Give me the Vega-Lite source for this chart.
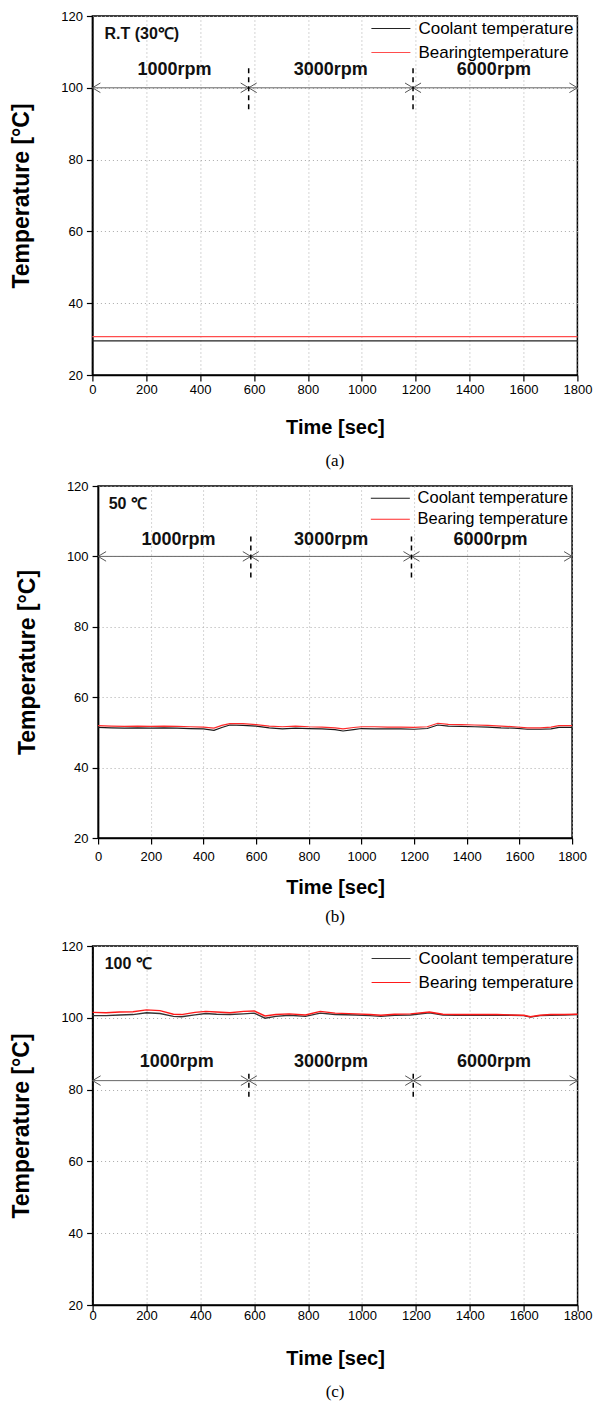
{
  "$schema": "https://vega.github.io/schema/vega-lite/v6.json",
  "background": "white",
  "padding": {"left": 9, "top": 9, "right": 0, "bottom": 0},
  "spacing": 9,
  "center": true,
  "config": {
    "view": {"stroke": "black", "strokeWidth": 1.5},
    "axis": {
      "grid": true, "gridDash": [1, 3], "gridColor": "#aaaaaa", "gridWidth": 1,
      "domainColor": "black", "domainWidth": 1.5,
      "tickColor": "black", "tickWidth": 1.2, "tickSize": 6,
      "labelFont": "Liberation Sans", "labelFontSize": 13, "labelColor": "black", "labelFlush": false,
      "titleFont": "Liberation Sans", "titleFontWeight": "bold", "titleColor": "black"
    },
    "legend": {
      "orient": "top-right", "offset": 4, "padding": 0,
      "symbolType": "M-3.9,0L3.9,0", "symbolSize": 100, "symbolStrokeWidth": 1.2,
      "labelOffset": 19, "labelFont": "Liberation Sans", "labelFontSize": 17, "labelColor": "black",
      "rowPadding": 6
    },
    "title": {"font": "Liberation Serif", "fontSize": 17, "fontWeight": "normal", "color": "black"}
  },
  "resolve": {"scale": {"color": "independent", "x": "independent", "y": "independent"}, "legend": {"color": "independent"}},
  "datasets": {
    "linesA": [
      {"time": 0, "temp": 29.5, "series": "Coolant temperature"},
      {"time": 900, "temp": 29.5, "series": "Coolant temperature"},
      {"time": 1800, "temp": 29.5, "series": "Coolant temperature"},
      {"time": 0, "temp": 30.7, "series": "Bearingtemperature"},
      {"time": 900, "temp": 30.7, "series": "Bearingtemperature"},
      {"time": 1800, "temp": 30.7, "series": "Bearingtemperature"}
    ],
    "linesB": [
      {"time": 0, "c": 51.4, "b": 51.9}, {"time": 50, "c": 51.3, "b": 51.8}, {"time": 100, "c": 51.2, "b": 51.7},
      {"time": 150, "c": 51.3, "b": 51.8}, {"time": 200, "c": 51.2, "b": 51.7}, {"time": 250, "c": 51.3, "b": 51.8},
      {"time": 300, "c": 51.2, "b": 51.7}, {"time": 350, "c": 51.1, "b": 51.6}, {"time": 400, "c": 51.0, "b": 51.5},
      {"time": 440, "c": 50.6, "b": 51.2}, {"time": 470, "c": 51.4, "b": 52.0}, {"time": 500, "c": 52.1, "b": 52.5},
      {"time": 550, "c": 52.0, "b": 52.5}, {"time": 600, "c": 51.8, "b": 52.2}, {"time": 650, "c": 51.3, "b": 51.8},
      {"time": 700, "c": 51.0, "b": 51.6}, {"time": 750, "c": 51.2, "b": 51.8}, {"time": 800, "c": 51.1, "b": 51.6},
      {"time": 850, "c": 51.0, "b": 51.5}, {"time": 900, "c": 50.8, "b": 51.3}, {"time": 930, "c": 50.4, "b": 51.0},
      {"time": 970, "c": 50.8, "b": 51.4}, {"time": 1000, "c": 51.1, "b": 51.6}, {"time": 1050, "c": 51.0, "b": 51.6},
      {"time": 1100, "c": 51.0, "b": 51.5}, {"time": 1150, "c": 51.0, "b": 51.5}, {"time": 1200, "c": 50.9, "b": 51.4},
      {"time": 1250, "c": 51.1, "b": 51.6}, {"time": 1290, "c": 52.1, "b": 52.6}, {"time": 1330, "c": 51.8, "b": 52.3},
      {"time": 1380, "c": 51.7, "b": 52.2}, {"time": 1430, "c": 51.6, "b": 52.1}, {"time": 1480, "c": 51.5, "b": 52.0},
      {"time": 1530, "c": 51.3, "b": 51.8}, {"time": 1580, "c": 51.2, "b": 51.6}, {"time": 1630, "c": 50.9, "b": 51.3},
      {"time": 1680, "c": 50.9, "b": 51.3}, {"time": 1720, "c": 51.0, "b": 51.5}, {"time": 1750, "c": 51.4, "b": 51.9},
      {"time": 1800, "c": 51.4, "b": 51.9}
    ],
    "linesC": [
      {"time": 0, "c": 100.6, "b": 101.5}, {"time": 50, "c": 100.6, "b": 101.4}, {"time": 100, "c": 100.8, "b": 101.6},
      {"time": 150, "c": 100.9, "b": 101.7}, {"time": 200, "c": 101.4, "b": 102.2}, {"time": 250, "c": 101.2, "b": 102.0},
      {"time": 300, "c": 100.4, "b": 101.0}, {"time": 330, "c": 100.3, "b": 100.9}, {"time": 380, "c": 100.8, "b": 101.5},
      {"time": 420, "c": 101.2, "b": 101.8}, {"time": 460, "c": 101.0, "b": 101.6}, {"time": 510, "c": 100.9, "b": 101.4},
      {"time": 560, "c": 101.1, "b": 101.8}, {"time": 600, "c": 101.3, "b": 101.9}, {"time": 640, "c": 99.9, "b": 100.5},
      {"time": 680, "c": 100.4, "b": 100.9}, {"time": 730, "c": 100.7, "b": 101.1}, {"time": 790, "c": 100.4, "b": 100.8},
      {"time": 845, "c": 101.3, "b": 101.8}, {"time": 900, "c": 100.9, "b": 101.3}, {"time": 975, "c": 100.8, "b": 101.1},
      {"time": 1030, "c": 100.6, "b": 100.9}, {"time": 1070, "c": 100.4, "b": 100.7}, {"time": 1120, "c": 100.7, "b": 101.0},
      {"time": 1180, "c": 100.8, "b": 101.1}, {"time": 1250, "c": 101.4, "b": 101.6}, {"time": 1300, "c": 100.8, "b": 101.0},
      {"time": 1350, "c": 100.7, "b": 100.9}, {"time": 1400, "c": 100.8, "b": 100.9}, {"time": 1450, "c": 100.7, "b": 100.9},
      {"time": 1500, "c": 100.8, "b": 100.9}, {"time": 1550, "c": 100.7, "b": 100.8}, {"time": 1600, "c": 100.6, "b": 100.7},
      {"time": 1625, "c": 100.2, "b": 100.3}, {"time": 1660, "c": 100.6, "b": 100.7}, {"time": 1700, "c": 100.7, "b": 100.9},
      {"time": 1750, "c": 100.8, "b": 100.9}, {"time": 1800, "c": 100.9, "b": 101.0}
    ],
    "arrowsAB": [
      {"time": 0, "time2": 580, "temp": 100, "mid": 305, "label": "1000rpm"},
      {"time": 580, "time2": 1190, "temp": 100, "mid": 885, "label": "3000rpm"},
      {"time": 1190, "time2": 1800, "temp": 100, "mid": 1490, "label": "6000rpm"}
    ],
    "arrowsC": [
      {"time": 0, "time2": 580, "temp": 82.5, "mid": 312, "label": "1000rpm"},
      {"time": 580, "time2": 1190, "temp": 82.5, "mid": 885, "label": "3000rpm"},
      {"time": 1190, "time2": 1800, "temp": 82.5, "mid": 1490, "label": "6000rpm"}
    ],
    "dashAB": [
      {"time": 580, "temp": 94, "temp2": 106.5},
      {"time": 1190, "temp": 94, "temp2": 106.5}
    ],
    "dashC": [
      {"time": 580, "temp": 78, "temp2": 85.5},
      {"time": 1190, "temp": 78, "temp2": 85.5}
    ],
    "tagA": [{"time": 45, "temp": 115, "label": "R.T (30℃)"}],
    "tagB": [{"time": 40, "temp": 115, "label": "50 ℃"}],
    "tagC": [{"time": 45, "temp": 115, "label": "100 ℃"}]
  },
  "vconcat": [
    {
      "width": 485, "height": 359,
      "title": {"text": "(a)", "orient": "bottom", "offset": 16},
      "layer": [
        {
          "data": {"name": "linesA"},
          "mark": {"type": "line", "strokeWidth": 1.3},
          "encoding": {
            "x": {"field": "time", "type": "quantitative", "scale": {"domain": [0, 1800], "nice": false},
              "axis": {"title": "Time [sec]", "titleFontSize": 20, "titlePadding": 21, "labelPadding": 2, "format": "d",
                "values": [0,100,200,300,400,500,600,700,800,900,1000,1100,1200,1300,1400,1500,1600,1700,1800],
                "labelExpr": "datum.value % 200 == 0 ? datum.label : ''"}},
            "y": {"field": "temp", "type": "quantitative", "scale": {"domain": [20, 120], "nice": false},
              "axis": {"title": "Temperature [°C]", "titleFontSize": 23, "titlePadding": 27, "labelPadding": 4, "format": "d",
                "values": [20,30,40,50,60,70,80,90,100,110,120],
                "labelExpr": "datum.value % 20 == 0 ? datum.label : ''"}},
            "color": {"field": "series", "type": "nominal",
              "scale": {"domain": ["Coolant temperature", "Bearingtemperature"], "range": ["#222222", "#ff4d4d"]},
              "legend": {"title": null}}
          }
        },
        {
          "data": {"name": "arrowsAB"},
          "mark": {"type": "rule", "color": "#666666", "strokeWidth": 1},
          "encoding": {
            "x": {"field": "time", "type": "quantitative"},
            "x2": {"field": "time2"},
            "y": {"field": "temp", "type": "quantitative"}
          }
        },
        {
          "data": {"name": "arrowsAB"},
          "mark": {"type": "point", "shape": "M1,-0.6L0,0L1,0.6", "size": 256, "filled": false, "color": "#555555", "strokeWidth": 1, "opacity": 1},
          "encoding": {
            "x": {"field": "time", "type": "quantitative"},
            "y": {"field": "temp", "type": "quantitative"}
          }
        },
        {
          "data": {"name": "arrowsAB"},
          "mark": {"type": "point", "shape": "M-1,-0.6L0,0L-1,0.6", "size": 256, "filled": false, "color": "#555555", "strokeWidth": 1, "opacity": 1},
          "encoding": {
            "x": {"field": "time2", "type": "quantitative"},
            "y": {"field": "temp", "type": "quantitative"}
          }
        },
        {
          "data": {"name": "arrowsAB"},
          "mark": {"type": "text", "font": "Liberation Sans", "fontSize": 18, "fontWeight": "bold", "color": "#111111", "baseline": "middle", "dy": -18},
          "encoding": {
            "x": {"field": "mid", "type": "quantitative"},
            "y": {"field": "temp", "type": "quantitative"},
            "text": {"field": "label"}
          }
        },
        {
          "data": {"name": "dashAB"},
          "mark": {"type": "rule", "color": "black", "strokeWidth": 1.5, "strokeDash": [5, 4]},
          "encoding": {
            "x": {"field": "time", "type": "quantitative"},
            "y": {"field": "temp", "type": "quantitative"},
            "y2": {"field": "temp2"}
          }
        },
        {
          "data": {"name": "tagA"},
          "mark": {"type": "text", "font": "Liberation Sans", "fontSize": 16, "fontWeight": "bold", "color": "#111111", "align": "left", "baseline": "middle"},
          "encoding": {
            "x": {"field": "time", "type": "quantitative"},
            "y": {"field": "temp", "type": "quantitative"},
            "text": {"field": "label"}
          }
        }
      ]
    },
    {
      "spacing": 13,
      "center": true,
      "resolve": {"scale": {"color": "independent", "x": "independent", "y": "independent"}, "legend": {"color": "independent"}},
      "vconcat": [
        {
          "width": 474, "height": 352,
          "title": {"text": "(b)", "orient": "bottom", "offset": 12},
          "layer": [
            {
              "data": {"name": "linesB"},
              "transform": [{"fold": ["c", "b"], "as": ["key", "temp"]},
                {"lookup": "key", "from": {"data": {"values": [{"key": "c", "series": "Coolant temperature"}, {"key": "b", "series": "Bearing temperature"}]}, "key": "key", "fields": ["series"]}}],
              "mark": {"type": "line", "strokeWidth": 1.2},
              "encoding": {
                "x": {"field": "time", "type": "quantitative", "scale": {"domain": [0, 1800], "nice": false},
                  "axis": {"title": "Time [sec]", "titleFontSize": 20, "titlePadding": 14, "labelPadding": 6, "format": "d",
                    "values": [0,100,200,300,400,500,600,700,800,900,1000,1100,1200,1300,1400,1500,1600,1700,1800],
                    "labelExpr": "datum.value % 200 == 0 ? datum.label : ''"}},
                "y": {"field": "temp", "type": "quantitative", "scale": {"domain": [20, 120], "nice": false},
                  "axis": {"title": "Temperature [°C]", "titleFontSize": 23, "titlePadding": 27, "labelPadding": 4, "format": "d",
                    "values": [20,30,40,50,60,70,80,90,100,110,120],
                    "labelExpr": "datum.value % 20 == 0 ? datum.label : ''"}},
                "color": {"field": "series", "type": "nominal",
                  "scale": {"domain": ["Coolant temperature", "Bearing temperature"], "range": ["#1a1a1a", "#ff2a2a"]},
                  "legend": {"title": null, "rowPadding": 4, "labelFontSize": 16.5}}
              }
            },
            {
              "data": {"name": "arrowsAB"},
              "mark": {"type": "rule", "color": "#666666", "strokeWidth": 1},
              "encoding": {
                "x": {"field": "time", "type": "quantitative"},
                "x2": {"field": "time2"},
                "y": {"field": "temp", "type": "quantitative"}
              }
            },
            {
              "data": {"name": "arrowsAB"},
              "mark": {"type": "point", "shape": "M1,-0.6L0,0L1,0.6", "size": 256, "filled": false, "color": "#555555", "strokeWidth": 1, "opacity": 1},
              "encoding": {
                "x": {"field": "time", "type": "quantitative"},
                "y": {"field": "temp", "type": "quantitative"}
              }
            },
            {
              "data": {"name": "arrowsAB"},
              "mark": {"type": "point", "shape": "M-1,-0.6L0,0L-1,0.6", "size": 256, "filled": false, "color": "#555555", "strokeWidth": 1, "opacity": 1},
              "encoding": {
                "x": {"field": "time2", "type": "quantitative"},
                "y": {"field": "temp", "type": "quantitative"}
              }
            },
            {
              "data": {"name": "arrowsAB"},
              "mark": {"type": "text", "font": "Liberation Sans", "fontSize": 18, "fontWeight": "bold", "color": "#111111", "baseline": "middle", "dy": -16},
              "encoding": {
                "x": {"field": "mid", "type": "quantitative"},
                "y": {"field": "temp", "type": "quantitative"},
                "text": {"field": "label"}
              }
            },
            {
              "data": {"name": "dashAB"},
              "mark": {"type": "rule", "color": "black", "strokeWidth": 1.5, "strokeDash": [5, 4]},
              "encoding": {
                "x": {"field": "time", "type": "quantitative"},
                "y": {"field": "temp", "type": "quantitative"},
                "y2": {"field": "temp2"}
              }
            },
            {
              "data": {"name": "tagB"},
              "mark": {"type": "text", "font": "Liberation Sans", "fontSize": 16, "fontWeight": "bold", "color": "#111111", "align": "left", "baseline": "middle"},
              "encoding": {
                "x": {"field": "time", "type": "quantitative"},
                "y": {"field": "temp", "type": "quantitative"},
                "text": {"field": "label"}
              }
            }
          ]
        },
        {
          "width": 485, "height": 359,
          "title": {"text": "(c)", "orient": "bottom", "offset": 16},
          "layer": [
            {
              "data": {"name": "linesC"},
              "transform": [{"fold": ["c", "b"], "as": ["key", "temp"]},
                {"lookup": "key", "from": {"data": {"values": [{"key": "c", "series": "Coolant temperature"}, {"key": "b", "series": "Bearing temperature"}]}, "key": "key", "fields": ["series"]}}],
              "mark": {"type": "line", "strokeWidth": 1.4},
              "encoding": {
                "x": {"field": "time", "type": "quantitative", "scale": {"domain": [0, 1800], "nice": false},
                  "axis": {"title": "Time [sec]", "titleFontSize": 20, "titlePadding": 26, "labelPadding": -2, "format": "d",
                    "values": [0,100,200,300,400,500,600,700,800,900,1000,1100,1200,1300,1400,1500,1600,1700,1800],
                    "labelExpr": "datum.value % 200 == 0 ? datum.label : ''"}},
                "y": {"field": "temp", "type": "quantitative", "scale": {"domain": [20, 120], "nice": false},
                  "axis": {"title": "Temperature [°C]", "titleFontSize": 23, "titlePadding": 27, "labelPadding": 4, "format": "d",
                    "values": [20,30,40,50,60,70,80,90,100,110,120],
                    "labelExpr": "datum.value % 20 == 0 ? datum.label : ''"}},
                "color": {"field": "series", "type": "nominal",
                  "scale": {"domain": ["Coolant temperature", "Bearing temperature"], "range": ["#333333", "#ff1a1a"]},
                  "legend": {"title": null}}
              }
            },
            {
              "data": {"name": "arrowsC"},
              "mark": {"type": "rule", "color": "#666666", "strokeWidth": 1},
              "encoding": {
                "x": {"field": "time", "type": "quantitative"},
                "x2": {"field": "time2"},
                "y": {"field": "temp", "type": "quantitative"}
              }
            },
            {
              "data": {"name": "arrowsC"},
              "mark": {"type": "point", "shape": "M1,-0.6L0,0L1,0.6", "size": 256, "filled": false, "color": "#555555", "strokeWidth": 1, "opacity": 1},
              "encoding": {
                "x": {"field": "time", "type": "quantitative"},
                "y": {"field": "temp", "type": "quantitative"}
              }
            },
            {
              "data": {"name": "arrowsC"},
              "mark": {"type": "point", "shape": "M-1,-0.6L0,0L-1,0.6", "size": 256, "filled": false, "color": "#555555", "strokeWidth": 1, "opacity": 1},
              "encoding": {
                "x": {"field": "time2", "type": "quantitative"},
                "y": {"field": "temp", "type": "quantitative"}
              }
            },
            {
              "data": {"name": "arrowsC"},
              "mark": {"type": "text", "font": "Liberation Sans", "fontSize": 18, "fontWeight": "bold", "color": "#111111", "baseline": "middle", "dy": -19},
              "encoding": {
                "x": {"field": "mid", "type": "quantitative"},
                "y": {"field": "temp", "type": "quantitative"},
                "text": {"field": "label"}
              }
            },
            {
              "data": {"name": "dashC"},
              "mark": {"type": "rule", "color": "black", "strokeWidth": 1.5, "strokeDash": [5, 4]},
              "encoding": {
                "x": {"field": "time", "type": "quantitative"},
                "y": {"field": "temp", "type": "quantitative"},
                "y2": {"field": "temp2"}
              }
            },
            {
              "data": {"name": "tagC"},
              "mark": {"type": "text", "font": "Liberation Sans", "fontSize": 16, "fontWeight": "bold", "color": "#111111", "align": "left", "baseline": "middle"},
              "encoding": {
                "x": {"field": "time", "type": "quantitative"},
                "y": {"field": "temp", "type": "quantitative"},
                "text": {"field": "label"}
              }
            }
          ]
        }
      ]
    }
  ]
}
